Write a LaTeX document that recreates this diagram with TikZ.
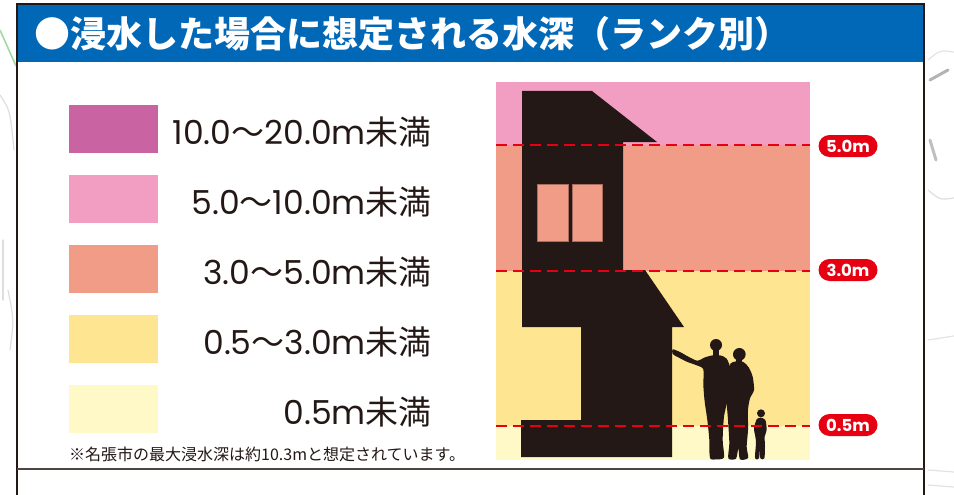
\documentclass[tikz,border=0pt]{standalone}
\usepackage{fontspec}
\setmainfont{Noto Sans CJK JP}
\newfontfamily\pop{Poppins}
\definecolor{ink}{HTML}{231815}
\definecolor{headerblue}{HTML}{0068B7}
\definecolor{alertred}{HTML}{E60012}
\definecolor{rankA}{HTML}{C963A2}
\definecolor{rankB}{HTML}{F19EC2}
\definecolor{rankC}{HTML}{F19C86}
\definecolor{rankD}{HTML}{FDE592}
\definecolor{rankE}{HTML}{FFF9C8}
\definecolor{mapgray}{HTML}{C8C8C8}
\tikzset{
  swatch/.style={minimum width=89pt, minimum height=48pt, inner sep=0pt, draw=none},
  legendtext/.style={anchor=east, inner sep=0pt, text=ink, font=\fontsize{33}{33}\selectfont},
  pill/.style={fill=alertred, text=white, rounded corners=11pt, minimum width=59pt,
    minimum height=22pt, inner sep=0pt, font=\fontsize{16.5}{16.5}\selectfont\pop},
  depthline/.style={alertred, line width=2.4pt, dash pattern=on 11pt off 6pt},
  frame/.style={ink, line width=1.8pt},
  silhouette/.style={fill=ink},
  mapline/.style={mapgray, line width=1.2pt, line cap=round}
}
\begin{document}
\begin{tikzpicture}[x=1pt,y=-1pt]
\useasboundingbox (0,0) rectangle (954,495);

% faint map strokes around the panel
\draw[green!60!black!60, line width=1.6pt, opacity=0.6] (0,30) -- (16,66);
\draw[mapline, opacity=0.6] (0,95) .. controls (10,110) .. (14,150);
\draw[mapline, opacity=0.6] (3,240) -- (3,300);
\draw[mapline, opacity=0.6] (8,290) .. controls (14,320) .. (10,350);
\draw[gray, line width=3pt, opacity=0.6, line cap=round] (930,80) -- (948,70);
\draw[gray, line width=3pt, opacity=0.5, line cap=round] (930,140) -- (936,160);
\draw[mapline, opacity=0.6] (928,190) .. controls (940,200) .. (954,198);
\draw[mapline, opacity=0.5] (928,60) .. controls (940,50) .. (954,52);
\draw[mapline, opacity=0.5] (928,340) -- (954,336);
\draw[mapline, opacity=0.5] (928,470) -- (954,472);
\draw[mapline, opacity=0.5] (928,485) -- (954,487);

% panel and header
\fill[white] (17,4) rectangle (924,495);
\fill[headerblue] (17,4) rectangle (924,62);
\draw[frame] (17,495) -- (17,4) -- (924,4) -- (924,495);
\draw[ink!80, line width=1.3pt] (17,469) -- (924,469);
\node[anchor=west, inner sep=0pt, text=white, font=\fontsize{36}{36}\selectfont\bfseries]
  (title) at (34,34) {●浸水した場合に想定される水深（ランク別）};

% legend
\node[swatch, fill=rankA] (sw1) at (113.5,129) {};
\node[swatch, fill=rankB] (sw2) at (113.5,199) {};
\node[swatch, fill=rankC] (sw3) at (113.5,269) {};
\node[swatch, fill=rankD] (sw4) at (113.5,339) {};
\node[swatch, fill=rankE] (sw5) at (113.5,409) {};
\node[legendtext] (lt1) at (432,132) {{\pop 10.0}～{\pop 20.0m}未満};
\node[legendtext] (lt2) at (432,202) {{\pop 5.0}～{\pop 10.0m}未満};
\node[legendtext] (lt3) at (432,272) {{\pop 3.0}～{\pop 5.0m}未満};
\node[legendtext] (lt4) at (432,342) {{\pop 0.5}～{\pop 3.0m}未満};
\node[legendtext] (lt5) at (432,412) {{\pop 0.5m}未満};
\node[anchor=west, inner sep=0pt, text=ink, font=\fontsize{16}{16}\selectfont]
  (note) at (69,454) {※名張市の最大浸水深は約10.3mと想定されています。};

% depth bands
\fill[rankB] (496,82) rectangle (810,145);
\fill[rankC] (496,145) rectangle (810,271);
\fill[rankD] (496,271) rectangle (810,426);
\fill[rankE] (496,426) rectangle (810,460);

% house
\fill[silhouette] (522,91) -- (592,91) -- (657,142) -- (623,142) -- (623,270)
  -- (645,270) -- (684,327) -- (672,327) -- (672,457) -- (521,457) -- (521,420)
  -- (581,420) -- (581,327) -- (522,327) -- cycle;
\filldraw[fill=rankC, draw=rankC!70!black, line width=0.5pt] (537,184) rectangle (568,241);
\filldraw[fill=rankC, draw=rankC!70!black, line width=0.5pt] (572,184) rectangle (602,241);

% people
\begin{scope}[shift={(660,330)}, scale=1/3]
  % man leaning on the wall
  \fill[silhouette] (168,45) circle (18);
  \fill[silhouette] (159,55) rectangle (177,82);
  \fill[silhouette] plot[smooth cycle, tension=0.45] coordinates {
    (38,58) (60,66) (85,80) (112,92) (135,82) (158,76) (180,76) (200,86)
    (212,120) (210,170) (202,215) (192,260) (188,330) (192,382) (170,388)
    (150,384) (148,330) (142,270) (134,215) (130,165) (130,118) (110,106)
    (80,95) (55,82) (38,72)};
  % woman
  \fill[silhouette] (238,73) circle (19);
  \fill[silhouette] (229,82) rectangle (247,102);
  \fill[silhouette] plot[smooth cycle, tension=0.45] coordinates {
    (212,100) (228,94) (250,96) (266,112) (278,140) (282,180) (270,205)
    (264,240) (264,300) (260,350) (264,384) (240,388) (235,355) (228,386)
    (205,385) (208,340) (204,270) (200,210) (205,150) (208,115)};
  % child
  \fill[silhouette] (303,250) circle (12);
  \fill[silhouette] plot[smooth cycle, tension=0.45] coordinates {
    (290,268) (302,263) (316,270) (320,300) (314,320) (315,350) (313,385)
    (301,385) (300,355) (297,385) (285,385) (288,340) (286,320) (282,295)};
\end{scope}

% depth marks
\draw[depthline] (496,145) -- (810,145);
\draw[depthline] (496,271) -- (810,271);
\draw[depthline] (496,426) -- (810,426);
\node[pill] (m5) at (848,146) {\bfseries 5.0m};
\node[pill] (m3) at (848,270) {\bfseries 3.0m};
\node[pill] (m05) at (848,425) {\bfseries 0.5m};
\end{tikzpicture}
\end{document}
